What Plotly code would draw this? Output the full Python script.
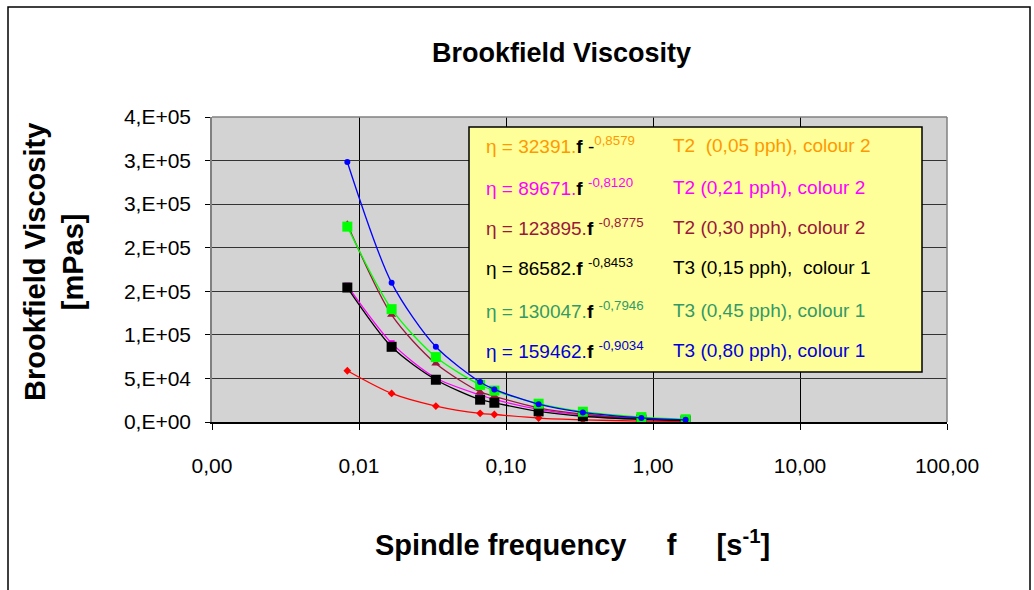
import plotly.graph_objects as go

# ---- data ----
freq = [0.00833, 0.01667, 0.03333, 0.06667, 0.08333, 0.1667, 0.3333, 0.8333, 1.6667]
t2_005 = [58800, 32800, 18300, 9900, 8600, 4500, 2500, 1100, 600]
t2_021 = [156500, 90500, 50500, 31000, 26000, 14500, 8000, 3700, 2100]
t2_030 = [227000, 123000, 67000, 34500, 29500, 16200, 8900, 4000, 2200]
t3_015 = [154300, 86300, 48500, 25600, 22100, 12200, 6600, 2900, 1700]
t3_045 = [224200, 129500, 74500, 42500, 36000, 21000, 11800, 5600, 3100]
t3_080 = [298400, 159700, 86300, 45900, 37400, 20500, 11000, 4700, 2500]

x_tickvals = [0.001, 0.01, 0.1, 1, 10, 100]
x_ticktext = ["0,00", "0,01", "0,10", "1,00", "10,00", "100,00"]
y_tickvals = [0, 50000, 100000, 150000, 200000, 250000, 300000, 350000]
y_ticktext = ["0,E+00", "5,E+04", "1,E+05", "2,E+05", "2,E+05", "3,E+05", "3,E+05", "4,E+05"]

eq_texts = [
    ("η = 32391.<span style='color:black'><b>f</b> -</span><sup>0,8579</sup>", "T2  (0,05 pph), colour 2", "#FF9900"),
    ("η = 89671.<span style='color:black'><b>f</b></span> <sup>-0,8120</sup>", "T2 (0,21 pph), colour 2", "#FF00FF"),
    ("η = 123895.<span style='color:black'><b>f</b></span> <sup>-0,8775</sup>", "T2 (0,30 pph), colour 2", "#99183C"),
    ("η = 86582.<span style='color:black'><b>f</b></span> <sup>-0,8453</sup>", "T3 (0,15 pph),  colour 1", "#000000"),
    ("η = 130047.<span style='color:black'><b>f</b></span> <sup>-0,7946</sup>", "T3 (0,45 pph), colour 1", "#339966"),
    ("η = 159462.<span style='color:black'><b>f</b></span> <sup>-0,9034</sup>", "T3 (0,80 pph), colour 1", "#0000DD"),
]

series = [
    ("T2 (0,05 pph)", t2_005, "#FF0000", "diamond", 6),
    ("T2 (0,21 pph)", t2_021, "#FF00FF", "square", 6),
    ("T2 (0,30 pph)", t2_030, "#99183C", "triangle-up", 8),
    ("T3 (0,15 pph)", t3_015, "#000000", "square", 10),
    ("T3 (0,45 pph)", t3_045, "#00FF00", "square", 10),
    ("T3 (0,80 pph)", t3_080, "#0000FF", "circle", 6),
]

FONT = "Liberation Sans, Arial, sans-serif"

fig = go.Figure()
for name, ys, col, sym, size in series:
    fig.add_trace(go.Scatter(
        x=freq, y=ys, name=name, mode="lines+markers",
        line=dict(color=col, width=1.3, shape="spline", smoothing=0.8),
        marker=dict(color=col, symbol=sym, size=size, line=dict(width=0)),
        showlegend=False,
    ))

# plot-area geometry in pixels (for paper conversions)
L, R, T, B = 212, 947, 117, 422
W, H = R - L, B - T
def px(x):
    return (x - L) / W
def py(y):
    return (B - y) / H

fig.update_layout(
    width=1034, height=590,
    margin=dict(l=L, r=1034 - R, t=T, b=590 - B, pad=0),
    paper_bgcolor="white",
    plot_bgcolor="#D3D3D3",
    font=dict(family=FONT, color="black"),
    xaxis=dict(
        type="log", range=[-3, 2], tickvals=x_tickvals, ticktext=x_ticktext,
        showgrid=True, gridcolor="#000000", gridwidth=1,
        showline=True, linecolor="black", linewidth=1.5,
        ticks="outside", ticklen=6, tickcolor="black",
        tickfont=dict(size=21, family=FONT), ticklabelstandoff=18,
        zeroline=False,
    ),
    yaxis=dict(
        range=[0, 350000], tickvals=y_tickvals, ticktext=y_ticktext,
        showgrid=True, gridcolor="#333333", gridwidth=1,
        showline=True, linecolor="#808080", linewidth=1.5,
        ticks="outside", ticklen=5, tickcolor="black",
        tickfont=dict(size=21, family=FONT), ticklabelstandoff=10,
        zeroline=False,
    ),
    shapes=[
        # outer chart frame
        dict(type="rect", xref="paper", yref="paper",
             x0=px(8), x1=px(1030), y0=py(640), y1=py(7),
             line=dict(color="black", width=1.5), fillcolor="rgba(0,0,0,0)", layer="below"),
        # plot area border top/right
        dict(type="line", xref="paper", yref="paper", x0=0, x1=1, y0=1, y1=1,
             line=dict(color="#808080", width=1.5)),
        dict(type="line", xref="paper", yref="paper", x0=1, x1=1, y0=0, y1=1,
             line=dict(color="#808080", width=1.5)),
        # equation box
        dict(type="rect", xref="paper", yref="paper",
             x0=px(469), x1=px(922), y0=py(372), y1=py(127),
             line=dict(color="black", width=1.5), fillcolor="#FFFF99", layer="above"),
    ],
)

annotations = [
    dict(text="<b>Brookfield Viscosity</b>", xref="paper", yref="paper",
         x=px(561), y=py(53), xanchor="center", yanchor="middle", showarrow=False,
         font=dict(size=27, family=FONT, color="black")),
    dict(text="<b>Brookfield Viscosity<br>[mPas]</b>", xref="paper", yref="paper",
         x=px(54), y=py(262), xanchor="center", yanchor="middle", showarrow=False,
         textangle=-90, font=dict(size=29, family=FONT, color="black")),
    dict(text="<b>Spindle frequency\u00a0\u00a0\u00a0\u00a0\u00a0f\u00a0\u00a0\u00a0\u00a0\u00a0[s<sup>-1</sup>]</b>",
         xref="paper", yref="paper", x=px(572), y=py(543), xanchor="center", yanchor="middle",
         showarrow=False, font=dict(size=29, family=FONT, color="black")),
]
row_y = [145, 187, 227, 267, 310, 350]
for (eq, lab, col), yy in zip(eq_texts, row_y):
    annotations.append(dict(text=eq, xref="paper", yref="paper", x=px(484), y=py(yy),
                            xanchor="left", yanchor="middle", showarrow=False,
                            font=dict(size=19, family=FONT, color=col)))
    annotations.append(dict(text=lab, xref="paper", yref="paper", x=px(671), y=py(yy),
                            xanchor="left", yanchor="middle", showarrow=False,
                            font=dict(size=19, family=FONT, color=col)))
fig.update_layout(annotations=annotations)

fig.write_html("out.html", config={"displayModeBar": False},
               post_script="document.body.style.margin='0';")
